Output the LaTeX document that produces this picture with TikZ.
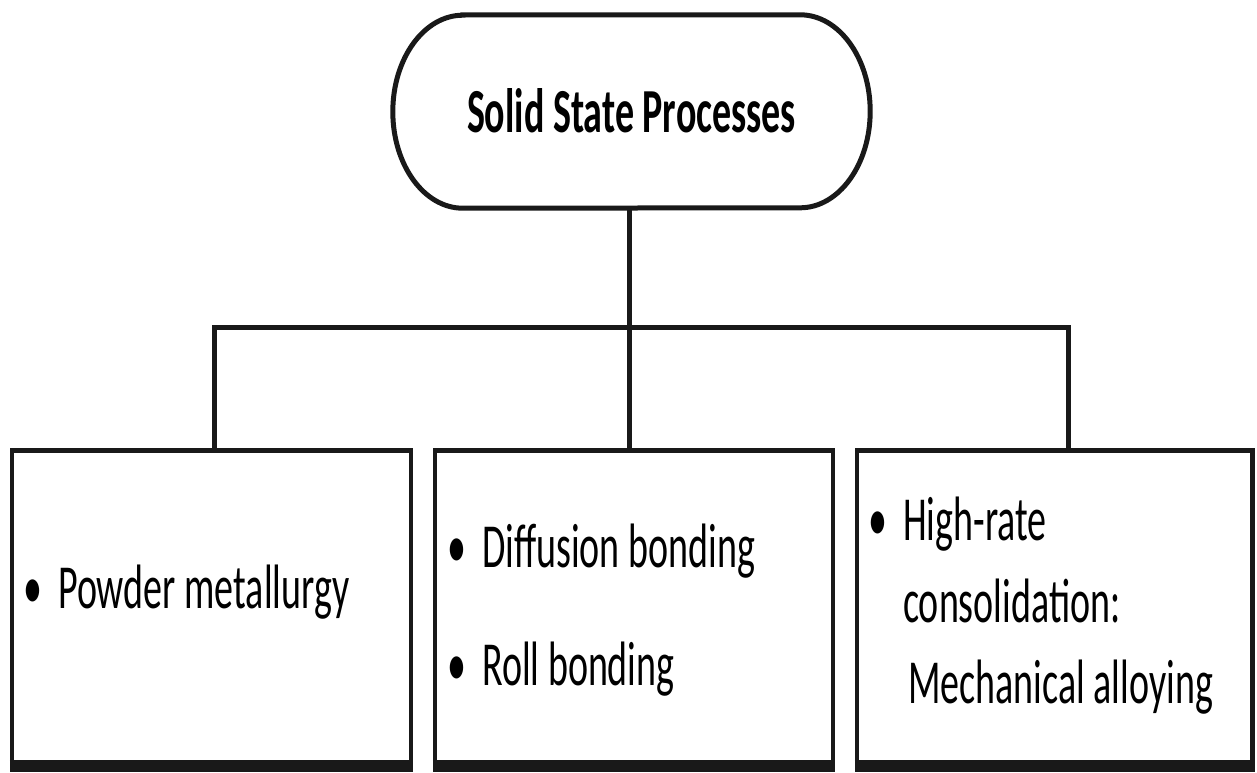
\documentclass[tikz,border=0pt]{standalone}
\usepackage{fontspec}
\setmainfont{Carlito}
\usetikzlibrary{calc}
% tall, narrow lettering
\newcommand{\tall}[1]{\scalebox{1}[1.65]{#1}}
% hanging bullet in front of an item
\newcommand{\bul}{\llap{\makebox[35pt][l]{•}}}

\begin{document}
\begin{tikzpicture}[x=1pt,y=1pt,
  ink/.style={draw=black!90},
  edge/.style={ink, line width=5pt},
  panel/.style={rectangle, ink, line width=4.5pt, minimum width=#1,
    minimum height=313pt, inner sep=0pt},
  itemtext/.style={anchor=base west, inner sep=0pt,
    font=\fontsize{38}{46}\selectfont},
]
\useasboundingbox (0,0) rectangle (1257,-772);

% title capsule
\node[minimum width=477pt, minimum height=193pt, inner sep=0pt] (top) at (631.5,-111.5) {};
\draw[ink, line width=5pt]
  ($(top.north west)+(70,0)$) -- ($(top.north east)+(-70,0)$)
  arc[start angle=90, end angle=-90, x radius=70pt, y radius=96.5pt]
  -- ($(top.south west)+(70,0)$)
  arc[start angle=270, end angle=90, x radius=70pt, y radius=96.5pt] -- cycle;
\node[anchor=base, inner sep=0pt, font=\fontsize{38}{46}\selectfont\bfseries]
  (title) at ($(top.center)+(0,-21)$) {\tall{Solid State Processes}};

% three category panels
\node[panel=399pt] (b1) at (211.5,-607) {};
\node[panel=398pt] (b2) at (634,-607) {};
\node[panel=395.5pt] (b3) at (1054.75,-607) {};
\foreach \b in {b1,b2,b3}
  \draw[ink, line width=12pt] (\b.south west) -- (\b.south east);

% tree connectors
\coordinate (hub) at (629,-327);
\coordinate (busL) at (214,-327);
\coordinate (busR) at (1068,-327);
\draw[edge] (top.south -| hub) -- (hub);
\draw[edge] (busL |- b1.north) -- (busL) -- (busR) -- (busR |- b3.north);
\draw[edge] (hub) -- (hub |- b2.north);

% panel contents
\node[itemtext] (t1) at (58,-608) {\tall{\bul Powder metallurgy}};

\node[itemtext] (t2a) at (482,-567) {\tall{\bul Diffusion bonding}};
\node[itemtext] (t2b) at (482,-685) {\tall{\bul Roll bonding}};

\node[itemtext] (t3a) at (903,-540) {\tall{\bul High-rate}};
\node[itemtext] (t3b) at (903,-622) {\tall{consolidation:}};
\node[itemtext] (t3c) at (908,-703) {\tall{Mechanical alloying}};
\end{tikzpicture}
\end{document}
